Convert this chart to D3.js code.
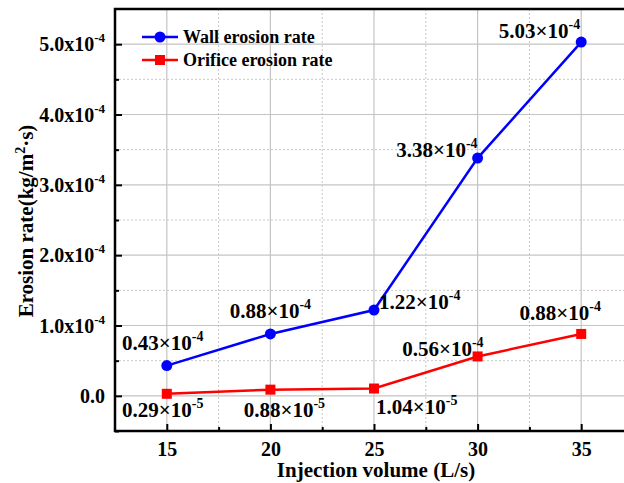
<!DOCTYPE html>
<html>
<head>
<meta charset="utf-8">
<script src="https://cdn.jsdelivr.net/npm/d3@7"></script>
<style>
  body { margin: 0; background: #fff; }
  text { font-family: "Liberation Serif", "Times New Roman", serif; font-weight: bold; fill: #000; }
</style>
</head>
<body>
<div id="chart"></div>
<script>
// data, rates in units of 1e-4 kg/(m2 s)
var volumes = [15, 20, 25, 30, 35];
var wallRate = [0.43, 0.88, 1.22, 3.38, 5.03];
var orificeRate = [0.029, 0.088, 0.104, 0.56, 0.88];
var wallLabels = [["0.43", "-4"], ["0.88", "-4"], ["1.22", "-4"], ["3.38", "-4"], ["5.03", "-4"]];
var orificeLabels = [["0.29", "-5"], ["0.88", "-5"], ["1.04", "-5"], ["0.56", "-4"], ["0.88", "-4"]];
var yTicks = [0, 1, 2, 3, 4, 5];
var yTickLabels = ["0.0", "1.0x10", "2.0x10", "3.0x10", "4.0x10", "5.0x10"];

// where each value label sits relative to its point
var wallPlace = [[-4, -16, "middle"], [0, -16, "middle"], [5, -1, "start"], [0, -1, "end"], [-1, -4, "end"]];
var orificePlace = [[-4, 23, "middle"], [14, 27, "middle"], [2, 25, "start"], [6, 0, "end"], [-21, -14, "middle"]];

var svgWidth = 624, svgHeight = 483;
var margin = { top: 9, left: 115 };
var width = 518, height = 422;

var svg = d3.select("#chart").append("svg")
  .attr("width", svgWidth)
  .attr("height", svgHeight);

var g = svg.append("g")
  .attr("transform", `translate(${margin.left}, ${margin.top})`);

var x = d3.scaleLinear().domain([12.5, 37.5]).range([0, width]);
var y = d3.scaleLinear().domain([-0.5, 5.5]).range([height, 0]);

var xMinor = [17.5, 22.5, 27.5, 32.5];
var yMinor = [-0.5, 0.5, 1.5, 2.5, 3.5, 4.5];

// grid
g.selectAll(".gx").data(volumes).enter().append("line")
  .attr("x1", d => x(d)).attr("x2", d => x(d))
  .attr("y1", 0).attr("y2", height)
  .attr("stroke", "#c4c4c4").attr("stroke-width", 1.2);
g.selectAll(".gxm").data(xMinor).enter().append("line")
  .attr("x1", d => x(d)).attr("x2", d => x(d))
  .attr("y1", 0).attr("y2", height)
  .attr("stroke", "#c8c8c8").attr("stroke-width", 1).attr("stroke-dasharray", "2,2");
g.selectAll(".gy").data(yTicks).enter().append("line")
  .attr("y1", d => y(d)).attr("y2", d => y(d))
  .attr("x1", 0).attr("x2", width)
  .attr("stroke", "#c4c4c4").attr("stroke-width", 1.2);
g.selectAll(".gym").data(yMinor.slice(1)).enter().append("line")
  .attr("y1", d => y(d)).attr("y2", d => y(d))
  .attr("x1", 0).attr("x2", width)
  .attr("stroke", "#c8c8c8").attr("stroke-width", 1).attr("stroke-dasharray", "2,2");

// axes with inward ticks
var xAxis = g.append("g").attr("transform", `translate(0, ${height})`)
  .call(d3.axisBottom(x).tickValues(volumes).tickSize(-7).tickFormat(d3.format("d")).tickPadding(11));
g.append("g").attr("transform", `translate(0, ${height})`)
  .call(d3.axisBottom(x).tickValues(xMinor).tickSize(-4).tickFormat(""));
var yAxis = g.append("g")
  .call(d3.axisLeft(y).tickValues(yTicks).tickSize(-7).tickFormat(""));
g.append("g")
  .call(d3.axisLeft(y).tickValues(yMinor).tickSize(-4).tickFormat(""));

g.selectAll(".domain").remove();
g.selectAll(".tick line").attr("stroke", "#000").attr("stroke-width", 2);
xAxis.selectAll(".tick text").attr("font-size", 20).attr("font-family", "Liberation Serif").attr("font-weight", "bold");

// y tick labels with superscripts
var yl = g.selectAll(".ylab").data(yTicks).enter().append("text")
  .attr("x", -10).attr("y", d => y(d) + 7)
  .attr("text-anchor", "end").attr("font-size", 20);
yl.append("tspan").text((d, i) => yTickLabels[i]);
yl.filter(d => d !== 0).append("tspan").attr("dy", -9).attr("font-size", 13).text("-4");

// frame
g.append("rect").attr("x", 0).attr("y", 0).attr("width", width).attr("height", height)
  .attr("fill", "none").attr("stroke", "#000").attr("stroke-width", 2.5);

// series
var line = d3.line().x(d => x(d[0])).y(d => y(d[1]));
var wallPts = volumes.map((v, i) => [v, wallRate[i]]);
var orPts = volumes.map((v, i) => [v, orificeRate[i]]);

g.append("path").datum(wallPts).attr("d", line)
  .attr("fill", "none").attr("stroke", "#0000ff").attr("stroke-width", 2.5);
g.append("path").datum(orPts).attr("d", line)
  .attr("fill", "none").attr("stroke", "#ff0000").attr("stroke-width", 2.5);

g.selectAll(".wp").data(wallPts).enter().append("circle")
  .attr("cx", d => x(d[0])).attr("cy", d => y(d[1])).attr("r", 5.5)
  .attr("fill", "#0000ff");
g.selectAll(".op").data(orPts).enter().append("rect")
  .attr("x", d => x(d[0]) - 5).attr("y", d => y(d[1]) - 5)
  .attr("width", 10).attr("height", 10)
  .attr("fill", "#ff0000");

// value labels
function addLabels(pts, labels, place) {
  var t = g.selectAll(null).data(pts).enter().append("text")
    .attr("x", (d, i) => x(d[0]) + place[i][0])
    .attr("y", (d, i) => y(d[1]) + place[i][1])
    .attr("text-anchor", (d, i) => place[i][2])
    .attr("font-size", 21);
  t.append("tspan").text((d, i) => labels[i][0] + "×10");
  t.append("tspan").attr("dy", -9).attr("font-size", 14).text((d, i) => labels[i][1]);
}
addLabels(wallPts, wallLabels, wallPlace);
addLabels(orPts, orificeLabels, orificePlace);

// legend
var legend = g.append("g").attr("transform", "translate(27, 28)");
var items = [["Wall erosion rate", "#0000ff", "circle"], ["Orifice erosion rate", "#ff0000", "square"]];
items.forEach(function(it, i) {
  var row = legend.append("g").attr("transform", `translate(0, ${i * 23})`);
  row.append("line").attr("x1", 0).attr("x2", 36).attr("stroke", it[1]).attr("stroke-width", 2.5);
  if (it[2] === "circle") {
    row.append("circle").attr("cx", 18).attr("r", 5.5).attr("fill", it[1]);
  } else {
    row.append("rect").attr("x", 13).attr("y", -5).attr("width", 10).attr("height", 10).attr("fill", it[1]);
  }
  row.append("text").attr("x", 41).attr("y", 6).attr("font-size", 18).text(it[0]);
});

// axis titles
svg.append("text")
  .attr("x", margin.left + x(25) + 2).attr("y", 477)
  .attr("text-anchor", "middle").attr("font-size", 21)
  .text("Injection volume (L/s)");

var yt = svg.append("text")
  .attr("transform", "translate(33, 221) rotate(-90)")
  .attr("text-anchor", "middle").attr("font-size", 21);
yt.append("tspan").text("Erosion rate(kg/m");
yt.append("tspan").attr("dy", -8).attr("font-size", 14).text("2");
yt.append("tspan").attr("dy", 8).text("·s)");
</script>
</body>
</html>
